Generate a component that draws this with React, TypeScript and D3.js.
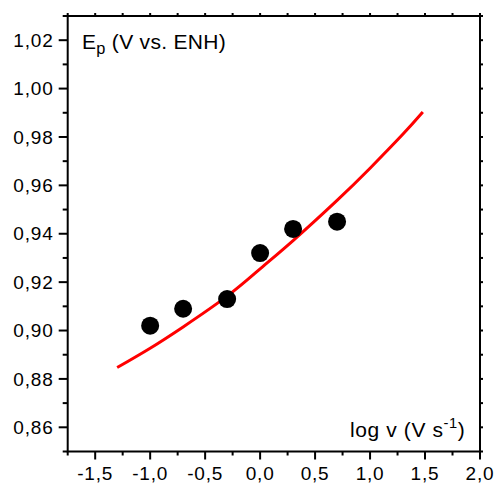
import React from "react";
import * as d3 from "d3";

const W = 495;
const H = 484;

// measured points: log v vs Ep
const pointX = [-1.0, -0.7, -0.3, 0.0, 0.3, 0.7];
const pointY = [0.902, 0.909, 0.913, 0.932, 0.942, 0.945];

// fitted curve
const curveX = [-1.3, -1.0, -0.7, -0.3, 0.0, 0.3, 0.7, 1.0, 1.3, 1.48];
const curveY = [0.8847, 0.8927, 0.9015, 0.9142, 0.9255, 0.9372, 0.9538, 0.9671, 0.9812, 0.9903];

const xMajor = [-1.5, -1.0, -0.5, 0.0, 0.5, 1.0, 1.5, 2.0];
const xMinor = [-1.75, -1.25, -0.75, -0.25, 0.25, 0.75, 1.25, 1.75];
const yMajor = [0.86, 0.88, 0.9, 0.92, 0.94, 0.96, 0.98, 1.0, 1.02];
const yMinor = [0.85, 0.87, 0.89, 0.91, 0.93, 0.95, 0.97, 0.99, 1.01, 1.03];

const fmtX = (v: number) => v.toFixed(1).replace(".", ",");
const fmtY = (v: number) => v.toFixed(2).replace(".", ",");

export default function App() {
  const left = 67.7;
  const right = 480;
  const top = 16;
  const bottom = 451.5;
  const x = d3.scaleLinear().domain([-1.75, 2.0]).range([left, right]);
  const y = d3.scaleLinear().domain([0.85, 1.03]).range([bottom, top]);

  const line = d3
    .line<number>()
    .x((_, i) => x(curveX[i]))
    .y((d) => y(d))
    .curve(d3.curveNatural);

  const font = "'Liberation Sans', Arial, Helvetica, sans-serif";
  const tickFs = 19;
  const labFs = 21;

  return (
    <svg
      width={W}
      height={H}
      style={{ position: "absolute", left: 0, top: 0, background: "#fff" }}
      fontFamily={font}
    >
      {/* curve */}
      <path d={line(curveY) || ""} fill="none" stroke="#ff0000" strokeWidth={3} />
      {/* points */}
      {pointX.map((px, i) => (
        <circle key={i} cx={x(px)} cy={y(pointY[i])} r={9} fill="#000" />
      ))}
      {/* frame */}
      <rect
        x={left}
        y={top}
        width={right - left}
        height={bottom - top}
        fill="none"
        stroke="#000"
        strokeWidth={2}
      />
      {/* bottom ticks */}
      {xMajor.map((v) => (
        <g key={"xm" + v}>
          <line x1={x(v)} x2={x(v)} y1={bottom} y2={bottom + 8} stroke="#000" strokeWidth={2} />
          <line x1={x(v)} x2={x(v)} y1={top} y2={top - 3} stroke="#000" strokeWidth={2} />
          <text
            x={x(v)}
            y={480}
            textAnchor="middle"
            fontSize={tickFs}
            letterSpacing={0.8}
          >
            {fmtX(v)}
          </text>
        </g>
      ))}
      {xMinor.map((v) => (
        <g key={"xn" + v}>
          <line x1={x(v)} x2={x(v)} y1={bottom} y2={bottom + 4} stroke="#000" strokeWidth={2} />
          <line x1={x(v)} x2={x(v)} y1={top} y2={top - 3} stroke="#000" strokeWidth={2} />
        </g>
      ))}
      {/* left ticks */}
      {yMajor.map((v) => (
        <g key={"ym" + v}>
          <line x1={left - 9} x2={left} y1={y(v)} y2={y(v)} stroke="#000" strokeWidth={2} />
          <line x1={right} x2={right + 3} y1={y(v)} y2={y(v)} stroke="#000" strokeWidth={2} />
          <text
            x={53.5}
            y={y(v)}
            dy="0.35em"
            textAnchor="end"
            fontSize={tickFs}
            letterSpacing={0.8}
          >
            {fmtY(v)}
          </text>
        </g>
      ))}
      {yMinor.map((v) => (
        <g key={"yn" + v}>
          <line x1={left - 5} x2={left} y1={y(v)} y2={y(v)} stroke="#000" strokeWidth={2} />
          <line x1={right} x2={right + 3} y1={y(v)} y2={y(v)} stroke="#000" strokeWidth={2} />
        </g>
      ))}
      {/* axis labels */}
      <text x={82} y={49} fontSize={labFs} letterSpacing={0.3}>
        E
        <tspan dy={5} fontSize={labFs * 0.78}>
          p
        </tspan>
        <tspan dy={-5}> (V vs. ENH)</tspan>
      </text>
      <text x={350} y={437} fontSize={labFs} letterSpacing={0.6}>
        log v (V s
        <tspan dy={-9} fontSize={labFs * 0.7}>
          -1
        </tspan>
        <tspan dy={9}>)</tspan>
      </text>
    </svg>
  );
}
